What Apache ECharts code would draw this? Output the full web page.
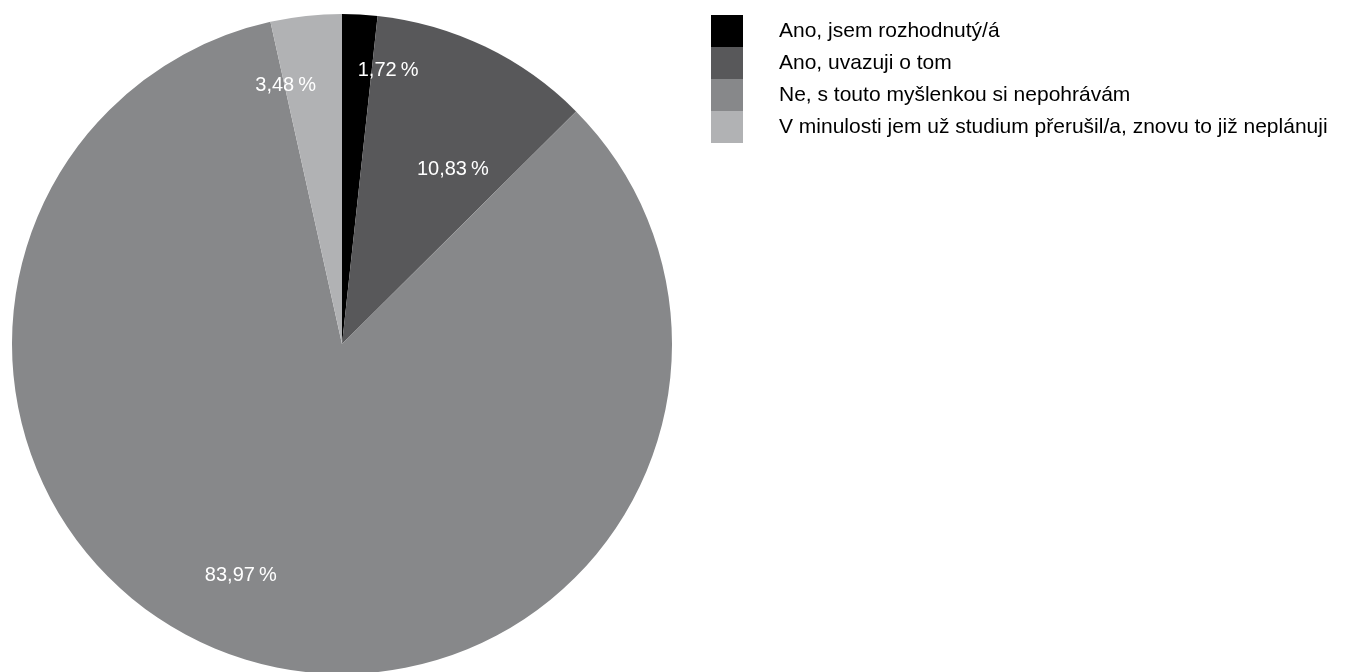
<!DOCTYPE html>
<html>
<head>
<meta charset="utf-8">
<script src="https://cdn.jsdelivr.net/npm/echarts@6/dist/echarts.min.js"></script>
<style>
html,body{margin:0;padding:0;background:#fff;}
#chart{width:1349px;height:672px;}
</style>
</head>
<body>
<div id="chart"></div>
<script>
const categories = [
  "Ano, jsem rozhodnutý/á",
  "Ano, uvazuji o tom",
  "Ne, s touto myšlenkou si nepohrávám",
  "V minulosti jem už studium přerušil/a, znovu to již neplánuji"
];
const values = [1.72, 10.83, 83.97, 3.48];
const colors = ["#000000", "#58585a", "#87888a", "#b1b2b4"];
const labelOffsets = [[37, -106], [38, -23], [-54, 70], [-38, -92]];

const FONT = "'Liberation Sans', Arial, Helvetica, sans-serif";
const chart = echarts.init(document.getElementById('chart'), null, {renderer: 'canvas'});
chart.setOption({
  animation: false,
  backgroundColor: '#ffffff',
  color: colors,
  legend: {
    orient: 'vertical',
    left: 711,
    top: 15,
    padding: 0,
    itemWidth: 32,
    itemHeight: 32,
    itemGap: 0,
    icon: 'rect',
    selectedMode: false,
    data: categories,
    textStyle: {
      fontFamily: FONT,
      fontSize: 21,
      color: '#000',
      padding: [0, 0, 0, 31]
    }
  },
  series: [{
    type: 'pie',
    center: [342, 344],
    radius: [0, 330],
    startAngle: 90,
    clockwise: true,
    avoidLabelOverlap: false,
    emphasis: {disabled: true},
    itemStyle: {borderWidth: 0},
    labelLine: {show: false},
    data: categories.map((c, i) => ({
      name: c,
      value: values[i],
      itemStyle: {color: colors[i]},
      label: {offset: labelOffsets[i]}
    })),
    label: {
      show: true,
      position: 'inside',
      fontFamily: FONT,
      fontSize: 20,
      color: '#ffffff',
      textBorderWidth: 0,
      formatter: p => p.value.toFixed(2).replace('.', ',') + '\u2009%'
    }
  }]
});
</script>
</body>
</html>
